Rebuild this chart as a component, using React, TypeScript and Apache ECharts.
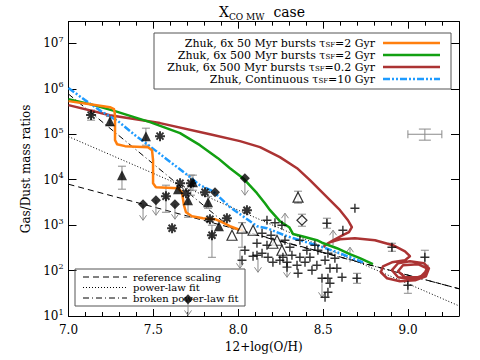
import { useEffect, useRef } from 'react';
import * as echarts from 'echarts';

const FONT = "'DejaVu Serif', 'Liberation Serif', serif";

// ---- model curves (x = 12+log(O/H), y = gas/dust) ----
const orangeBurst50 = [
  [7.0, 536000], [7.127, 460000], [7.244, 395000], [7.268, 357000], [7.274, 264000],
  [7.274, 74100], [7.286, 60500], [7.333, 54700], [7.468, 52000], [7.492, 44700],
  [7.498, 26900], [7.498, 8380], [7.515, 6840], [7.645, 6500], [7.668, 5310],
  [7.68, 2740], [7.692, 1920], [7.727, 1570], [7.792, 1420], [7.863, 1350],
  [7.904, 1160], [7.951, 946], [7.998, 813], [8.027, 773],
];
const greenBurst500 = [
  [7.0, 593000], [7.127, 460000], [7.274, 323000], [7.48, 185000], [7.657, 106000],
  [7.774, 57500], [7.88, 29800], [7.951, 17900], [8.028, 10800], [8.11, 5050],
  [8.157, 3030], [8.187, 2130], [8.245, 1220], [8.3, 900], [8.322, 640],
  [8.381, 560], [8.463, 465], [8.493, 410], [8.581, 310], [8.657, 229],
  [8.716, 187], [8.793, 138],
];
const redBurst500 = [
  [7.0, 437000], [7.244, 263000], [7.539, 176000], [7.833, 100000], [8.01, 70500],
  [8.128, 52000], [8.245, 31300], [8.346, 17900], [8.422, 9750], [8.481, 5870],
  [8.54, 3540], [8.599, 2130], [8.646, 1280], [8.669, 899], [8.652, 698],
  [8.616, 599], [8.569, 489], [8.528, 399], [8.505, 343], [8.54, 420],
  [8.599, 489], [8.687, 514], [8.805, 465], [8.911, 361], [8.982, 266],
  [9.011, 207], [8.982, 169], [8.905, 152], [8.852, 124], [8.84, 91.8],
  [8.876, 67.7], [8.952, 58.1], [9.041, 61.1], [9.105, 74.9], [9.123, 112],
  [9.093, 145], [9.011, 160], [8.941, 145], [8.905, 102], [8.941, 71.2],
  [9.023, 64.3], [9.093, 78.8], [9.111, 112], [9.058, 138], [8.97, 131],
  [8.941, 96.5], [8.982, 71.2], [9.07, 71.2], [9.105, 96.5],
];
const blueContinuous = [
  [7.0, 1040000], [7.097, 564000], [7.191, 323000], [7.292, 194000], [7.392, 95500],
  [7.486, 52000], [7.586, 26900], [7.686, 13900], [7.774, 7570], [7.851, 5580],
  [7.951, 2500], [8.028, 1560], [8.11, 946], [8.169, 855], [8.287, 569],
  [8.363, 465], [8.499, 326], [8.599, 240], [8.734, 152],
];

// ---- fits ----
const refScaling = [[7.0, 7940], [9.3, 39.8]];
const powerLawFit = [[7.0, 88700], [9.3, 16.7]];
const brokenPowerLawFit = [[7.0, 767000], [7.96, 847], [9.3, 39.8]];

// ---- observed galaxies ----
const filledTriangles = [
  [7.244, 194000], [7.456, 90800], [7.315, 12600], [7.645, 6180], [7.704, 3540],
  [7.733, 8800], [7.822, 3190], [7.886, 946],
];
const asterisks = [
  [7.133, 264000], [7.539, 90800], [7.574, 4330], [7.61, 855], [7.657, 8370],
  [7.721, 8370], [7.692, 5040], [7.804, 5300], [7.833, 1350], [7.845, 599],
  [7.933, 1420], [8.051, 2130],
];
const openTriangles = [
  [7.963, 599], [8.022, 855], [8.087, 772], [8.352, 4120], [8.228, 465],
  [8.257, 280], [8.204, 399],
];
const openDiamonds = [[8.375, 1280]];
const filledDiamonds = [
  [7.439, 2880], [7.515, 3540], [7.627, 2880], [8.039, 10800], [7.863, 5300], [7.704, 23.3],
];
const crosses = [
  [8.169, 1280], [8.216, 1130], [8.257, 995], [8.11, 399], [8.169, 361], [8.275, 465],
  [8.304, 326], [8.11, 217], [8.175, 196], [8.263, 196], [8.204, 152], [8.287, 152],
  [8.287, 119], [8.346, 131], [8.352, 87.1], [8.363, 196], [8.404, 280], [8.422, 196],
  [8.463, 131], [8.511, 169], [8.528, 240], [8.54, 112], [8.581, 112], [8.493, 67.7],
  [8.528, 67.7], [8.611, 71.2], [8.54, 52.5], [8.528, 33.3], [8.511, 25.8], [8.039, 280],
  [8.022, 169], [8.687, 2350], [8.616, 772], [8.522, 1100], [8.699, 67.7], [8.905, 326],
  [8.999, 47.5], [9.099, 196], [8.14, 663], [8.087, 207], [8.14, 240], [8.451, 361],
  [8.393, 152], [8.434, 102], [8.469, 280], [8.569, 187], [8.316, 217], [8.245, 169],
  [8.363, 465], [8.193, 599],
];
// [x, low, high]
const errorBars = [
  [7.244, 155000, 245000], [7.456, 57500, 136000], [7.315, 6180, 19800], [7.704, 1490, 5870],
  [7.733, 5870, 12600], [7.822, 2350, 4300], [7.133, 204000, 340000], [7.574, 1920, 7570],
  [7.721, 4560, 12600], [7.845, 196, 995], [8.022, 326, 1130], [8.352, 3040, 5580],
  [8.375, 946, 1740], [8.522, 855, 1420], [8.699, 52.5, 87.1], [8.905, 266, 399],
  [8.999, 31.6, 61.1], [9.099, 131, 280],
];
// [x, from, to]
const limitArrows = [
  [7.439, 2880, 1280], [7.515, 3540, 1650], [7.627, 2880, 1350], [8.039, 10800, 4560],
  [7.704, 23.3, 10.3], [8.01, 280, 112], [8.287, 152, 71.2], [8.116, 187, 91.8],
  [8.493, 52.5, 25.8], [8.275, 899, 1830], [8.558, 361, 772], [8.658, 152, 326],
];
// [x, y, xlow, xhigh, ylow, yhigh]
const typicalError = [[9.099, 100000, 8.999, 9.199, 74100, 130000]];

const yTickExponents = ['1', '2', '3', '4', '5', '6', '7'];

const ASTERISK =
  'path://M4,0 L6,0 L6,10 L4,10 Z M0,4 L10,4 L10,6 L0,6 Z M2.2,0.8 L9.2,7.8 L7.8,9.2 L0.8,2.2 Z M7.8,0.8 L9.2,2.2 L2.2,9.2 L0.8,7.8 Z';
const PLUS =
  'path://M4.2,0 L5.8,0 L5.8,4.2 L10,4.2 L10,5.8 L5.8,5.8 L5.8,10 L4.2,10 L4.2,5.8 L0,5.8 L0,4.2 L4.2,4.2 Z';

const GREY = '#8a8a8a';

function renderErr(_p: any, api: any) {
  const x = api.value(0);
  const a = api.coord([x, api.value(1)]);
  const b = api.coord([x, api.value(2)]);
  const c = 4;
  const st = { stroke: GREY, lineWidth: 1 };
  return {
    type: 'group',
    children: [
      { type: 'line', shape: { x1: a[0], y1: a[1], x2: b[0], y2: b[1] }, style: st },
      { type: 'line', shape: { x1: a[0] - c, y1: a[1], x2: a[0] + c, y2: a[1] }, style: st },
      { type: 'line', shape: { x1: b[0] - c, y1: b[1], x2: b[0] + c, y2: b[1] }, style: st },
    ],
  };
}

function renderArrow(_p: any, api: any) {
  const x = api.value(0);
  const a = api.coord([x, api.value(1)]);
  const b = api.coord([x, api.value(2)]);
  const d = b[1] > a[1] ? 1 : -1;
  const st = { stroke: GREY, lineWidth: 1, fill: 'none' };
  return {
    type: 'group',
    children: [
      { type: 'line', shape: { x1: a[0], y1: a[1], x2: b[0], y2: b[1] }, style: st },
      {
        type: 'polyline',
        shape: { points: [[b[0] - 3.5, b[1] - d * 5], [b[0], b[1]], [b[0] + 3.5, b[1] - d * 5]] },
        style: st,
      },
    ],
  };
}

function renderCross(_p: any, api: any) {
  const c = api.coord([api.value(0), api.value(1)]);
  const l = api.coord([api.value(2), api.value(1)]);
  const r = api.coord([api.value(3), api.value(1)]);
  const lo = api.coord([api.value(0), api.value(4)]);
  const hi = api.coord([api.value(0), api.value(5)]);
  const st = { stroke: GREY, lineWidth: 1 };
  return {
    type: 'group',
    children: [
      { type: 'line', shape: { x1: l[0], y1: c[1], x2: r[0], y2: c[1] }, style: st },
      { type: 'line', shape: { x1: l[0], y1: c[1] - 4, x2: l[0], y2: c[1] + 4 }, style: st },
      { type: 'line', shape: { x1: r[0], y1: c[1] - 4, x2: r[0], y2: c[1] + 4 }, style: st },
      { type: 'line', shape: { x1: c[0], y1: lo[1], x2: c[0], y2: hi[1] }, style: st },
      { type: 'line', shape: { x1: c[0] - 6, y1: lo[1], x2: c[0] + 6, y2: lo[1] }, style: st },
      { type: 'line', shape: { x1: c[0] - 6, y1: hi[1], x2: c[0] + 6, y2: hi[1] }, style: st },
    ],
  };
}

const legendTop = [
  { pre: 'Zhuk, 6x 50 Myr bursts τ', post: '=2 Gyr', color: '#ff7f0e', dash: null as any },
  { pre: 'Zhuk, 6x 500 Myr bursts τ', post: '=2 Gyr', color: '#12a012', dash: null as any },
  { pre: 'Zhuk, 6x 500 Myr bursts τ', post: '=0.2 Gyr', color: '#ab3333', dash: null as any },
  { pre: 'Zhuk, Continuous τ', post: '=10 Gyr', color: '#1e9bff', dash: [7, 2, 2, 2, 2, 2] },
];
const legendBottom = [
  { label: 'reference scaling', dash: [6, 4] },
  { label: 'power-law fit', dash: [1, 2] },
  { label: 'broken power-law fit', dash: [6, 3, 1, 3] },
];

function buildGraphics() {
  const g: any[] = [];
  g.push({
    type: 'text', x: 262, y: 12,
    style: {
      text: '{b|X}{sub|CO MW}{b|  case}', fill: '#000', font: `14px ${FONT}`,
      align: 'center', verticalAlign: 'middle',
      rich: {
        b: { font: `14px ${FONT}`, fontSize: 14, fontFamily: FONT, lineHeight: 18, verticalAlign: 'middle' },
        sub: { font: `9px ${FONT}`, fontSize: 9, fontFamily: FONT, verticalAlign: 'bottom', lineHeight: 9 },
      },
    },
  });
  g.push({ type: 'rect', shape: { x: 154, y: 33, width: 297, height: 56 }, style: { fill: '#fff', stroke: '#555', lineWidth: 1 }, z: 10 });
  legendTop.forEach((it, i) => {
    const y = 43 + i * 12;
    g.push({
      type: 'text', x: 375, y, z: 11,
      style: {
        text: `{b|${it.pre}}{sub|SF}{b|${it.post}}`, fill: '#000', font: `11px ${FONT}`,
        align: 'right', verticalAlign: 'middle',
        rich: {
          b: { font: `11px ${FONT}`, fontSize: 11, fontFamily: FONT, lineHeight: 11, verticalAlign: 'middle' },
          sub: { font: `7px ${FONT}`, fontSize: 7, fontFamily: FONT, verticalAlign: 'bottom', lineHeight: 7 },
        },
      },
    });
    g.push({
      type: 'line', z: 11, shape: { x1: 383, y1: y, x2: 440, y2: y },
      style: { stroke: it.color, lineWidth: 2.5, lineDash: it.dash || undefined },
    });
  });
  g.push({ type: 'rect', shape: { x: 75, y: 269, width: 170, height: 37 }, style: { fill: 'none', stroke: '#555', lineWidth: 1 }, z: 1 });
  legendBottom.forEach((it, i) => {
    const y = 277 + i * 10.5;
    g.push({
      type: 'text', x: 133, y, z: 1,
      style: { text: it.label, fill: '#000', font: `10px ${FONT}`, align: 'left', verticalAlign: 'middle' },
    });
    g.push({ type: 'line', z: 1, shape: { x1: 83, y1: y, x2: 127, y2: y }, style: { stroke: '#000', lineWidth: 1, lineDash: it.dash } });
  });
  return g;
}

function xAxisDef(pos: 'top' | 'bottom', interval: number, len: number, labels: boolean) {
  return {
    type: 'value', position: pos, min: 7, max: 9.3, interval,
    axisLine: { show: labels, onZero: false, lineStyle: { color: '#000', width: 1 } },
    axisTick: { show: true, inside: true, length: len, lineStyle: { color: '#000', width: 1 } },
    axisLabel: labels && pos === 'bottom'
      ? { show: true, formatter: (v: number) => v.toFixed(1), showMaxLabel: false, color: '#000', fontFamily: FONT, fontSize: 12, margin: 8 }
      : { show: false },
    splitLine: { show: false },
    ...(labels && pos === 'bottom'
      ? { name: '12+log(O/H)', nameLocation: 'middle', nameGap: 23, nameTextStyle: { color: '#000', fontFamily: FONT, fontSize: 12 } }
      : {}),
  };
}

function yAxisDef(pos: 'left' | 'right') {
  const left = pos === 'left';
  return {
    type: 'log', logBase: 10, position: pos, min: 10, max: 30000000,
    axisLine: { show: true, onZero: false, lineStyle: { color: '#000', width: 1 } },
    axisTick: { show: true, inside: true, length: 8, lineStyle: { color: '#000', width: 1 } },
    axisLabel: left
      ? {
          show: true, showMaxLabel: false, margin: 5, color: '#000', fontFamily: FONT, fontSize: 12, lineHeight: 16,
          formatter: (v: number) => {
            const e = String(Math.round(Math.log10(v)));
            return yTickExponents.includes(e) ? '{b|10}{s|' + e + '}' : '';
          },
          rich: {
            b: { fontSize: 12, fontFamily: FONT, color: '#000', lineHeight: 16, verticalAlign: 'middle' },
            s: { fontSize: 8, fontFamily: FONT, color: '#000', verticalAlign: 'top', lineHeight: 9 },
          },
        }
      : { show: false },
    splitLine: { show: false },
    minorTick: { show: false },
    ...(left
      ? { name: 'Gas/Dust mass ratios', nameLocation: 'middle', nameGap: 30, nameTextStyle: { color: '#000', fontFamily: FONT, fontSize: 12 } }
      : {}),
  };
}

function lineSeries(name: string, data: number[][], color: string, width: number, type: any, z = 2) {
  return {
    name, type: 'line', data, showSymbol: false, symbol: 'none', z,
    lineStyle: { color, width, type, cap: 'butt', join: 'round' },
    silent: true,
  };
}

function scatter(name: string, data: number[][], symbol: string, size: number, itemStyle: any) {
  return { name, type: 'scatter', data, symbol, symbolSize: size, itemStyle, z: 4, silent: true };
}

export default function App() {
  const ref = useRef<HTMLDivElement>(null);
  useEffect(() => {
    const chart = echarts.init(ref.current!, null, { renderer: 'svg' });
    chart.setOption({
      animation: false,
      backgroundColor: '#fff',
      grid: { left: 68.5, right: 21, top: 21.7, bottom: 44 },
      xAxis: [
        xAxisDef('bottom', 0.5, 7, true),
        xAxisDef('bottom', 0.1, 4, false),
        xAxisDef('top', 0.5, 7, true),
        xAxisDef('top', 0.1, 4, false),
      ],
      yAxis: [yAxisDef('left'), yAxisDef('right')],
      graphic: buildGraphics(),
      series: [
        lineSeries('reference scaling', refScaling, '#000', 1, [6, 4], 1),
        lineSeries('power-law fit', powerLawFit, '#000', 1, [1, 2], 1),
        lineSeries('broken power-law fit', brokenPowerLawFit, '#000', 1, [6, 3, 1, 3], 1),
        {
          type: 'custom', name: 'errors', renderItem: renderErr, data: errorBars,
          encode: { x: 0, y: [1, 2] }, z: 2, silent: true,
        },
        {
          type: 'custom', name: 'limits', renderItem: renderArrow, data: limitArrows,
          encode: { x: 0, y: [1, 2] }, z: 2, silent: true,
        },
        {
          type: 'custom', name: 'typical', renderItem: renderCross, data: typicalError,
          encode: { x: [0, 2, 3], y: [1, 4, 5] }, z: 2, silent: true,
        },
        lineSeries('Zhuk, 6x 500 Myr bursts tau=0.2 Gyr', redBurst500, '#ab3333', 2.5, 'solid', 3),
        lineSeries('Zhuk, 6x 500 Myr bursts tau=2 Gyr', greenBurst500, '#12a012', 2.5, 'solid', 3),
        lineSeries('Zhuk, Continuous tau=10 Gyr', blueContinuous, '#1e9bff', 2.5, [7, 2, 2, 2, 2, 2], 3),
        lineSeries('Zhuk, 6x 50 Myr bursts tau=2 Gyr', orangeBurst50, '#ff7f0e', 2.5, 'solid', 3),
        scatter('filled triangles', filledTriangles, 'triangle', 10, { color: '#000' }),
        scatter('asterisks', asterisks, ASTERISK, 10, { color: '#000' }),
        scatter('open triangles', openTriangles, 'triangle', 10, { color: '#fff', borderColor: '#000', borderWidth: 1.2 }),
        scatter('open diamonds', openDiamonds, 'diamond', 10, { color: '#fff', borderColor: '#000', borderWidth: 1.2 }),
        scatter('filled diamonds', filledDiamonds, 'diamond', 10, { color: '#000' }),
        scatter('crosses', crosses, PLUS, 9, { color: '#000' }),
      ],
    });
    return () => chart.dispose();
  }, []);
  return (
    <div
      ref={ref}
      style={{ position: 'fixed', left: 0, top: 0, width: 480, height: 360, background: '#fff' }}
    />
  );
}
